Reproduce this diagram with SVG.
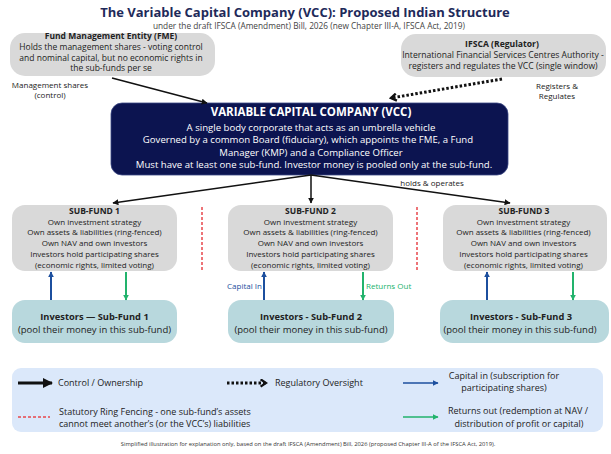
<svg xmlns="http://www.w3.org/2000/svg" width="611" height="454" viewBox="0 0 611 454">
<defs>
<style>
text{font-family:"Open Sans","DejaVu Sans",sans-serif;text-anchor:middle;fill:#222}
.b{font-weight:bold}
.gbox{fill:#d9d9d9}
.ibox{fill:#b8d8dd}
.tf{font-size:8.5px}
.ti{font-size:8.6px}
.t8{font-size:8px}
.sf{font-size:8px}
.sft{font-size:8.5px;font-weight:bold}
.w{fill:#fff}
.lg{font-size:9px;text-anchor:start}
.lc{font-size:9px}
.ctl{stroke:#111;stroke-width:1.5;fill:none}
.cap{stroke:#1c4f9e;stroke-width:2;fill:none}
.ret{stroke:#22b36c;stroke-width:2;fill:none}
.ring{stroke:#e8474c;stroke-width:1.5;stroke-dasharray:3 2;fill:none}
.reg{stroke:#111;stroke-width:3;stroke-dasharray:2.5 2;fill:none}
</style>
<marker id="ah" viewBox="0 0 10 10" refX="9" refY="5" markerWidth="6" markerHeight="6" markerUnits="userSpaceOnUse" orient="auto"><path d="M0,0 L10,5 L0,10 Z" fill="#111"/></marker>
<marker id="ahb" viewBox="0 0 10 10" refX="9" refY="5" markerWidth="6" markerHeight="6" markerUnits="userSpaceOnUse" orient="auto"><path d="M0,0 L10,5 L0,10 Z" fill="#1c4f9e"/></marker>
<marker id="ahg" viewBox="0 0 10 10" refX="9" refY="5" markerWidth="6" markerHeight="6" markerUnits="userSpaceOnUse" orient="auto"><path d="M0,0 L10,5 L0,10 Z" fill="#22b36c"/></marker>
<marker id="ahL" viewBox="0 0 10 10" refX="9" refY="5" markerWidth="10" markerHeight="10" markerUnits="userSpaceOnUse" orient="auto"><path d="M0,0 L10,5 L0,10 Z" fill="#111"/></marker>
<marker id="chev" viewBox="0 0 10 10" refX="8" refY="5" markerWidth="9" markerHeight="9" markerUnits="userSpaceOnUse" orient="auto"><path d="M2,1 L8,5 L2,9" fill="none" stroke="#111" stroke-width="2.6"/></marker>
</defs>
<rect width="611" height="454" fill="#fff"/>

<g id="title">
<text x="305" y="17" class="b" style="font-size:13px;fill:#1e2a5a">The Variable Capital Company (VCC): Proposed Indian Structure</text>
<text x="309" y="28.5" style="font-size:8.3px;fill:#444">under the draft IFSCA (Amendment) Bill, 2026 (new Chapter III-A, IFSCA Act, 2019)</text>
</g>

<g id="fme">
<rect x="10" y="33" width="205" height="43" rx="15" class="gbox"/>
<text x="111" y="39.3" class="b tf">Fund Management Entity (FME)</text>
<text x="111" y="50" class="tf">Holds the management shares - voting control</text>
<text x="111" y="60.7" class="tf">and nominal capital, but no economic rights in</text>
<text x="111" y="71.4" class="tf">the sub-funds per se</text>
</g>

<g id="ifsca">
<rect x="401" y="34" width="205" height="43" rx="15" class="gbox"/>
<text x="502" y="47" class="b ti">IFSCA (Regulator)</text>
<text x="503" y="57.8" class="ti">International Financial Services Centres Authority -</text>
<text x="503" y="68.6" class="ti">registers and regulates the VCC (single window)</text>
</g>

<g id="vcc">
<rect x="111" y="103" width="397" height="72" rx="11" fill="#0c1450" stroke="#3b4784" stroke-width="0.8"/>
<text x="311" y="116" class="b w" style="font-size:11.5px">VARIABLE CAPITAL COMPANY (VCC)</text>
<text x="311" y="130.5" class="w" style="font-size:9.6px">A single body corporate that acts as an umbrella vehicle</text>
<text x="308" y="143" class="w" style="font-size:9.6px">Governed by a common Board (fiduciary), which appoints the FME, a Fund</text>
<text x="311" y="155.5" class="w" style="font-size:9.6px">Manager (KMP) and a Compliance Officer</text>
<text x="314" y="168" class="w" style="font-size:9.6px">Must have at least one sub-fund. Investor money is pooled only at the sub-fund.</text>
</g>

<g id="subfund1">
<rect x="12" y="205" width="165" height="66" rx="13" class="gbox"/>
<text x="94.5" y="214" class="sft">SUB-FUND 1</text>
<text x="94.5" y="224.5" class="sf">Own investment strategy</text>
<text x="94.5" y="235.3" class="sf">Own assets &amp; liabilities (ring-fenced)</text>
<text x="94.5" y="246" class="sf">Own NAV and own investors</text>
<text x="94.5" y="257" class="sf">Investors hold participating shares</text>
<text x="94.5" y="267.7" class="sf">(economic rights, limited voting)</text>
</g>
<g id="subfund2">
<rect x="228" y="205" width="165" height="66" rx="13" class="gbox"/>
<text x="310.5" y="214" class="sft">SUB-FUND 2</text>
<text x="310.5" y="224.5" class="sf">Own investment strategy</text>
<text x="310.5" y="235.3" class="sf">Own assets &amp; liabilities (ring-fenced)</text>
<text x="310.5" y="246" class="sf">Own NAV and own investors</text>
<text x="310.5" y="257" class="sf">Investors hold participating shares</text>
<text x="310.5" y="267.7" class="sf">(economic rights, limited voting)</text>
</g>
<g id="subfund3">
<rect x="443" y="205" width="164" height="66" rx="13" class="gbox"/>
<text x="524" y="214" class="sft">SUB-FUND 3</text>
<text x="523.5" y="224.5" class="sf">Own investment strategy</text>
<text x="523.5" y="235.3" class="sf">Own assets &amp; liabilities (ring-fenced)</text>
<text x="523.5" y="246" class="sf">Own NAV and own investors</text>
<text x="523.5" y="257" class="sf">Investors hold participating shares</text>
<text x="523.5" y="267.7" class="sf">(economic rights, limited voting)</text>
</g>

<g id="investors1">
<rect x="12" y="300" width="165" height="43" rx="13" class="ibox"/>
<text x="94.5" y="320" class="b" style="font-size:9.3px">Investors — Sub-Fund 1</text>
<text x="94.5" y="333" style="font-size:9.5px">(pool their money in this sub-fund)</text>
</g>
<g id="investors2">
<rect x="228" y="300" width="166" height="43" rx="13" class="ibox"/>
<text x="311" y="320" class="b" style="font-size:9.3px">Investors - Sub-Fund 2</text>
<text x="311" y="333" style="font-size:9.5px">(pool their money in this sub-fund)</text>
</g>
<g id="investors3">
<rect x="440" y="300" width="169" height="43" rx="13" class="ibox"/>
<text x="521" y="320" class="b" style="font-size:9.3px">Investors - Sub-Fund 3</text>
<text x="520" y="333" style="font-size:9.5px">(pool their money in this sub-fund)</text>
</g>

<g id="connectors">
<line x1="112" y1="78" x2="207" y2="103" class="ctl" marker-end="url(#ah)"/>
<line x1="502" y1="79" x2="391" y2="98" class="reg" marker-end="url(#chev)"/>
<line x1="311" y1="175" x2="113" y2="203" class="ctl" marker-end="url(#ah)"/>
<line x1="311" y1="175" x2="311" y2="203" class="ctl" marker-end="url(#ah)"/>
<line x1="311" y1="175" x2="510" y2="203" class="ctl" marker-end="url(#ah)"/>
<line x1="51" y1="300" x2="51" y2="272" class="cap" marker-end="url(#ahb)"/>
<line x1="126" y1="272" x2="126" y2="300" class="ret" marker-end="url(#ahg)"/>
<line x1="264" y1="300" x2="264" y2="272" class="cap" marker-end="url(#ahb)"/>
<line x1="363" y1="272" x2="363" y2="300" class="ret" marker-end="url(#ahg)"/>
<line x1="487" y1="300" x2="487" y2="272" class="cap" marker-end="url(#ahb)"/>
<line x1="573" y1="272" x2="573" y2="300" class="ret" marker-end="url(#ahg)"/>
<line x1="202" y1="207" x2="202" y2="270" class="ring"/>
<line x1="417" y1="207" x2="417" y2="270" class="ring"/>
<text x="50" y="87.5" class="t8">Management shares</text>
<text x="50" y="98" class="t8">(control)</text>
<text x="557" y="88.5" class="t8">Registers &amp;</text>
<text x="557" y="99" class="t8">Regulates</text>
<text x="432" y="186" class="t8">holds &amp; operates</text>
<text x="262" y="289" class="t8" style="text-anchor:end;fill:#1c4f9e">Capital In</text>
<text x="366" y="289" class="t8" style="text-anchor:start;fill:#22b36c">Returns Out</text>
</g>

<g id="legend">
<rect x="12" y="368" width="591" height="64" rx="9" fill="#dbe8fa"/>
<line x1="18" y1="383" x2="52" y2="383" stroke="#111" stroke-width="3" marker-end="url(#ahL)"/>
<text x="58" y="386" class="lg">Control / Ownership</text>
<line x1="227" y1="383" x2="266" y2="383" class="reg" marker-end="url(#chev)"/>
<text x="275" y="386" class="lg">Regulatory Oversight</text>
<line x1="403" y1="383" x2="438" y2="383" stroke="#1c4f9e" stroke-width="1.5" marker-end="url(#ahb)"/>
<text x="504" y="378.5" class="lc">Capital in (subscription for</text>
<text x="504" y="390.5" class="lc">participating shares)</text>
<line x1="18" y1="417" x2="50" y2="417" class="ring"/>
<text x="59" y="414.5" class="lg">Statutory Ring Fencing - one sub-fund’s assets</text>
<text x="59" y="426.5" class="lg">cannot meet another’s (or the VCC’s) liabilities</text>
<line x1="403" y1="417" x2="438" y2="417" stroke="#22b36c" stroke-width="1.5" marker-end="url(#ahg)"/>
<text x="518" y="414" class="lc">Returns out (redemption at NAV /</text>
<text x="519" y="426.5" class="lc">distribution of profit or capital)</text>
</g>

<g id="footer">
<text x="308" y="446" style="font-size:5.8px;fill:#333">Simplified illustration for explanation only, based on the draft IFSCA (Amendment) Bill, 2026 (proposed Chapter III-A of the IFSCA Act, 2019).</text>
</g>
</svg>
